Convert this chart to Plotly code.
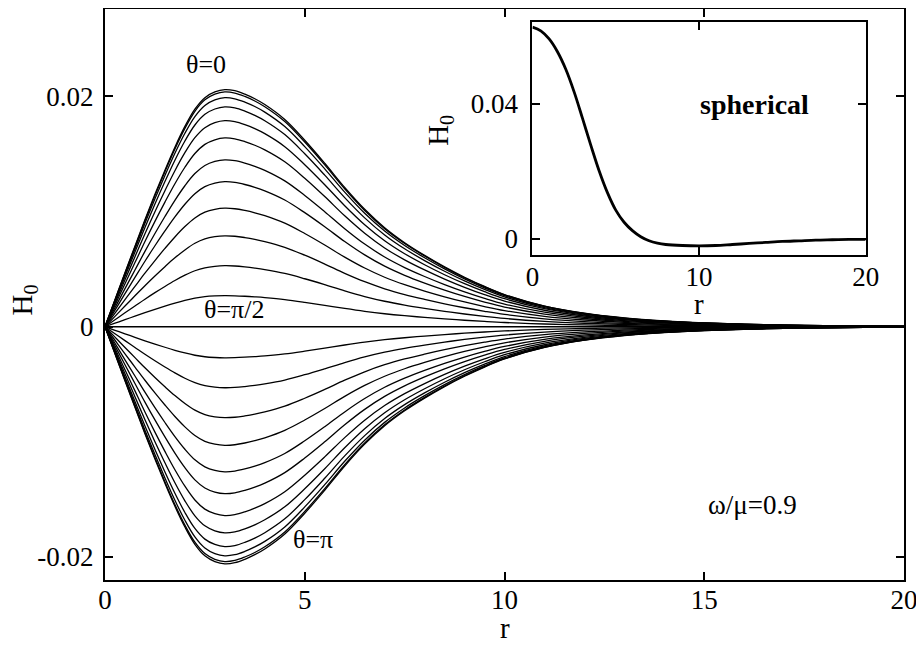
import plotly.graph_objects as go
import numpy as np

# radial profile of the theta=0 curve (main panel)
r_main = [0, 0.25, 0.5, 0.75, 1.0, 1.25, 1.5, 1.75, 2.0, 2.25, 2.5, 2.75, 3.0,
          3.25, 3.5, 3.75, 4.0, 4.5, 5.0, 5.5, 6.0, 6.5, 7.0, 7.5, 8.0, 8.5,
          9.0, 9.5, 10, 11, 12, 13, 14, 15, 16, 17, 18, 19, 20]
h_theta0 = [0, 0.00235, 0.0047, 0.0070, 0.0093, 0.0115, 0.0136, 0.0156, 0.0174,
            0.0189, 0.0199, 0.0204, 0.0206, 0.0205, 0.0202, 0.0198, 0.0193,
            0.0180, 0.0162, 0.0142, 0.0121, 0.0102, 0.0086, 0.0073, 0.0062,
            0.0052, 0.0043, 0.0035, 0.0028, 0.0018, 0.00117, 0.00076,
            0.0005, 0.00033, 0.00022, 0.00014, 0.00009, 0.00006, 0.00004]

# peak height of each curve, theta = 0 ... pi
peaks = [0.0206, 0.0204, 0.0199, 0.0191, 0.0179, 0.0164, 0.0145, 0.0126,
         0.0103, 0.0079, 0.0053, 0.0027, 0.0,
         -0.0027, -0.0053, -0.0079, -0.0103, -0.0126, -0.0145, -0.0164,
         -0.0179, -0.0191, -0.0199, -0.0204, -0.0206]

# inset: spherical solution
r_sph = [0, 0.5, 1.0, 1.5, 2.0, 2.5, 3.0, 3.5, 4.0, 4.5, 5.0, 5.5, 6.0, 6.5,
         7.0, 7.5, 8.0, 9.0, 10, 11, 12, 13, 14, 15, 16, 17, 18, 19, 20]
h_sph = [0.0628, 0.0617, 0.0593, 0.0555, 0.0503, 0.0436, 0.0358, 0.0278,
         0.0202, 0.0137, 0.0085, 0.0049, 0.0024, 0.0006, -0.0006, -0.0013,
         -0.0017, -0.0020, -0.0021, -0.0020, -0.0017, -0.0014, -0.0011,
         -0.0008, -0.0006, -0.0004, -0.0003, -0.0002, -0.0002]

main_xticks = [0, 5, 10, 15, 20]
main_yticks = [-0.02, 0, 0.02]
main_yticktext = ["-0.02", "0", "0.02"]
inset_xticks = [0, 10, 20]
inset_yticks = [0, 0.04]
inset_yticktext = ["0", "0.04"]

FONT = "Liberation Serif"

fig = go.Figure()

base = np.array(h_theta0) / max(h_theta0)
for p in peaks:
    fig.add_trace(go.Scatter(
        x=r_main, y=base * p, mode="lines",
        line=dict(color="black", width=1.3, shape="spline", smoothing=1.0),
        xaxis="x", yaxis="y", hoverinfo="skip"))

fig.add_trace(go.Scatter(
    x=r_sph, y=h_sph, mode="lines",
    line=dict(color="black", width=2.8, shape="spline"),
    xaxis="x2", yaxis="y2", hoverinfo="skip"))

axis_style = dict(showline=True, linecolor="black", linewidth=2,
                  mirror="allticks", ticks="inside", ticklen=8,
                  tickcolor="black", tickwidth=1.5,
                  showgrid=False, zeroline=False, automargin=False)

# the page body adds an 8px offset, so the figure is 8px smaller than the window
fig.update_layout(
    width=916, height=638,
    margin=dict(l=97, r=20, t=1, b=66),
    paper_bgcolor="white", plot_bgcolor="white",
    showlegend=False,
    font=dict(family=FONT, size=27, color="black"),
    xaxis=dict(domain=[0, 1], range=[0, 20], tickvals=main_xticks,
               ticklabelstandoff=-5, **axis_style),
    yaxis=dict(domain=[0, 1], range=[-0.022, 0.0276], tickvals=main_yticks,
               ticktext=main_yticktext, ticklabelstandoff=4,
               **axis_style),
    xaxis2=dict(domain=[0.535, 0.952], anchor="y2", range=[0, 20],
                tickvals=inset_xticks, ticklabelstandoff=-4, **axis_style),
    yaxis2=dict(domain=[0.569, 0.977], anchor="x2", range=[-0.00485, 0.0643],
                tickvals=inset_yticks, ticktext=inset_yticktext,
                ticklabelstandoff=7, **axis_style),
    annotations=[
        # axis titles
        dict(x=0.5006, y=-0.084, xref="paper", yref="paper", text="r",
             showarrow=False, xanchor="center", yanchor="middle",
             font=dict(size=29)),
        dict(x=-0.101, y=0.49, xref="paper", yref="paper",
             text="H<sub>0</sub>", textangle=-90, showarrow=False,
             xanchor="center", yanchor="middle", font=dict(size=29)),
        dict(x=0.7434, y=0.484, xref="paper", yref="paper", text="r",
             showarrow=False, xanchor="center", yanchor="middle",
             font=dict(size=29)),
        dict(x=0.419, y=0.788, xref="paper", yref="paper",
             text="H<sub>0</sub>", textangle=-90, showarrow=False,
             xanchor="center", yanchor="middle", font=dict(size=29)),
        # curve labels
        dict(x=2.53, y=0.0228, xref="x", yref="y", text="θ=0",
             showarrow=False, font=dict(size=26)),
        dict(x=3.23, y=0.0001, xref="x", yref="y", text="θ=π/2",
             showarrow=False, yanchor="bottom", font=dict(size=26)),
        dict(x=5.2, y=-0.0185, xref="x", yref="y", text="θ=π",
             showarrow=False, font=dict(size=26)),
        dict(x=16.2, y=-0.0155, xref="x", yref="y", text="ω/μ=0.9",
             showarrow=False, font=dict(size=27)),
        dict(x=13.3, y=0.040, xref="x2", yref="y2", text="<b>spherical</b>",
             showarrow=False, font=dict(size=28)),
    ],
)

fig.write_html("out.html")
